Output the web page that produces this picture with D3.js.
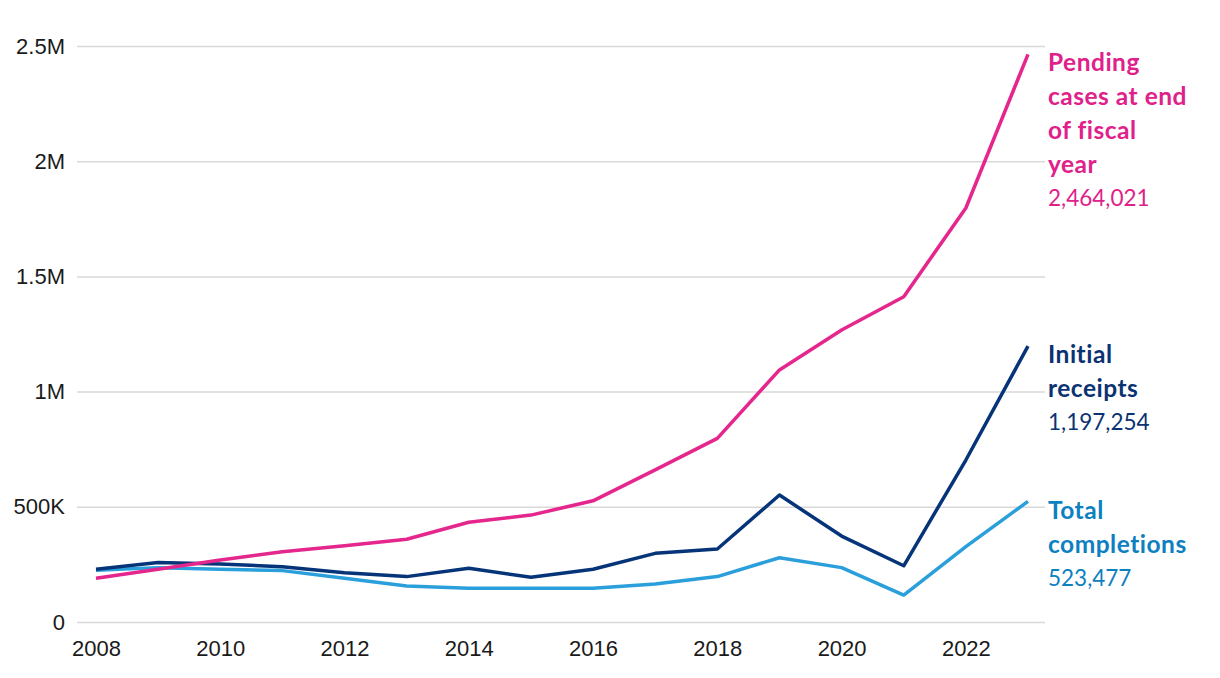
<!DOCTYPE html>
<html><head><meta charset="utf-8">
<script src="https://cdn.jsdelivr.net/npm/d3@7"></script>
<style>
body{margin:0;background:#fff;}
svg{display:block;font-family:Lato,"Noto Sans",sans-serif;}
</style></head>
<body><svg id="c" width="1220" height="678"></svg>
<script>
const years = [2008,2009,2010,2011,2012,2013,2014,2015,2016,2017,2018,2019,2020,2021,2022,2023];
const pending = [190000,229000,269000,305000,331000,359000,433000,464000,526000,660000,797000,1094000,1267000,1412000,1797000,2464021];
const receipts = [229000,258000,252000,240000,214000,197000,233000,194000,229000,298000,317000,551000,373000,244000,703000,1197254];
const completions = [225000,236000,229000,223000,190000,156000,146000,147000,146000,165000,197000,279000,236000,117000,327000,523477];
const yTicks = [0,500000,1000000,1500000,2000000,2500000];
const yTickLabels = ["0","500K","1M","1.5M","2M","2.5M"];
const xTicks = [2008,2010,2012,2014,2016,2018,2020,2022];

const series = [
  {name:["Pending","cases at end","of fiscal","year"], values:pending, line:"#E4268D", text:"#E0218A", labelY:62},
  {name:["Initial","receipts"], values:receipts, line:"#063479", text:"#0B3272", labelY:354},
  {name:["Total","completions"], values:completions, line:"#2A9FDC", text:"#0C80C1", labelY:510}
];

const svg = d3.select("#c");
const x = d3.scaleLinear().domain([2008,2023]).range([96,1028]);
const y = d3.scaleLinear().domain([0,2500000]).range([622,46]);

const yAxis = d3.axisLeft(y).tickValues(yTicks).tickFormat((d,i)=>yTickLabels[i]).tickSize(-(1045-77)).tickPadding(12);
const gy = svg.append("g").attr("transform","translate(77,0)").call(yAxis);
gy.select(".domain").remove();
gy.selectAll(".tick line").attr("stroke","#d9d9d9").attr("stroke-width",1.5);
gy.selectAll(".tick text").attr("fill","#1a1a1a").attr("font-size",22).attr("dy","0.32em").attr("x",-12);

const xAxis = d3.axisBottom(x).tickValues(xTicks).tickFormat(d3.format("d")).tickSize(0).tickPadding(18);
const gx = svg.append("g").attr("transform","translate(0,622)").call(xAxis);
gx.select(".domain").remove();
gx.selectAll(".tick text").attr("fill","#1a1a1a").attr("font-size",22);

const line = d3.line().x((d,i)=>x(years[i])).y(d=>y(d));
series.slice().reverse().forEach(s=>{
  svg.append("path").attr("d",line(s.values)).attr("fill","none")
    .attr("stroke",s.line).attr("stroke-width",3.5).attr("stroke-linejoin","round");
});

const fmt = d3.format(",");
series.forEach(s=>{
  const t = svg.append("text").attr("x",1048).attr("fill",s.text);
  s.name.forEach((n,i)=>{
    t.append("tspan").attr("x",1048).attr("y",s.labelY+i*34).attr("dy","0.35em")
      .attr("font-weight",700).attr("font-size",24.5).attr("letter-spacing",0.5).text(n);
  });
  t.append("tspan").attr("x",1048).attr("y",s.labelY+s.name.length*34).attr("dy","0.35em")
    .attr("font-weight",400).attr("font-size",22.5).text(fmt(s.values[s.values.length-1]));
});
</script></body></html>
